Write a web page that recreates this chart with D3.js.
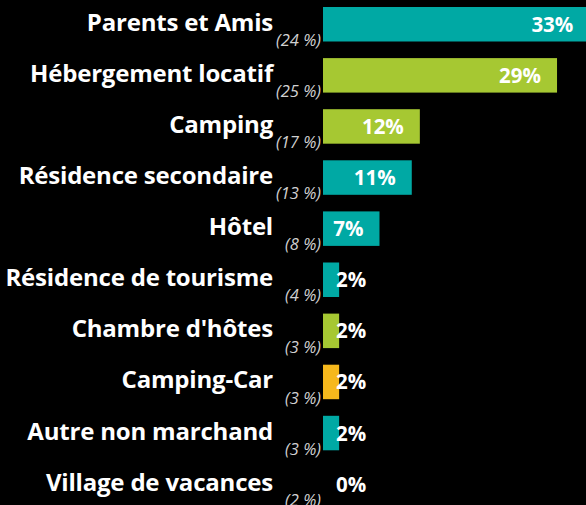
<!DOCTYPE html>
<html>
<head>
<meta charset="utf-8">
<script src="https://cdn.jsdelivr.net/npm/d3@7"></script>
<style>
  html, body { margin: 0; padding: 0; background: #000; }
  svg { display: block; }
</style>
</head>
<body>
<div id="chart"></div>
<script>
const categories = [
  "Parents et Amis",
  "Hébergement locatif",
  "Camping",
  "Résidence secondaire",
  "Hôtel",
  "Résidence de tourisme",
  "Chambre d'hôtes",
  "Camping-Car",
  "Autre non marchand",
  "Village de vacances"
];
const shares = [33, 29, 12, 11, 7, 2, 2, 2, 2, 0];
const previousShares = [24, 25, 17, 13, 8, 4, 3, 3, 3, 2];
const groups = ["nm", "m", "m", "nm", "nm", "nm", "m", "cc", "nm", "m"];

const groupColors = { nm: "#00a9a4", m: "#a6c832", cc: "#f6b81c" };

const width = 586, height = 505;

const svg = d3.select("#chart")
  .append("svg")
  .attr("width", width)
  .attr("height", height)
  .style("background", "#000");

const x = d3.scaleLinear()
  .domain([0, 100])
  .range([323, 323 + 807]);

const y = d3.scaleBand()
  .domain(categories)
  .range([-1.3, 509.7])
  .paddingInner(0.325)
  .paddingOuter(0.1625);

const rows = categories.map((name, i) => ({
  name, value: shares[i], prev: previousShares[i], group: groups[i]
}));

const row = svg.selectAll("g.row")
  .data(rows)
  .join("g")
  .attr("class", "row");

row.filter(d => d.value > 0)
  .append("rect")
  .attr("x", x(0))
  .attr("y", d => y(d.name))
  .attr("width", d => x(d.value) - x(0))
  .attr("height", y.bandwidth())
  .attr("fill", d => groupColors[d.group]);

const mid = d => y(d.name) + y.bandwidth() / 2;

// category names
row.append("text")
  .attr("x", 273)
  .attr("y", d => mid(d) + 6.5)
  .attr("text-anchor", "end")
  .attr("fill", "#fff")
  .style("font", "bold 24px 'Open Sans', sans-serif")
  .style("letter-spacing", "-0.2px")
  .text(d => d.name);

// previous year share, in brackets
row.append("text")
  .attr("x", 321)
  .attr("y", d => y(d.name) + y.bandwidth() + 4.5)
  .attr("text-anchor", "end")
  .attr("fill", "#d0d0d0")
  .style("font", "italic 16.5px 'Open Sans', sans-serif")
  .text(d => `(${d.prev} %)`);

// value labels: inside for long bars, just after the bar for short ones
row.append("text")
  .attr("x", d => d.value >= 5 ? x(d.value) - 16 : x(0) + 13)
  .attr("y", d => mid(d) + 7.5)
  .attr("text-anchor", d => d.value >= 5 ? "end" : "start")
  .attr("fill", "#fff")
  .style("font", "bold 20.5px 'Open Sans', sans-serif")
  .text(d => d.value + "%");
</script>
</body>
</html>
